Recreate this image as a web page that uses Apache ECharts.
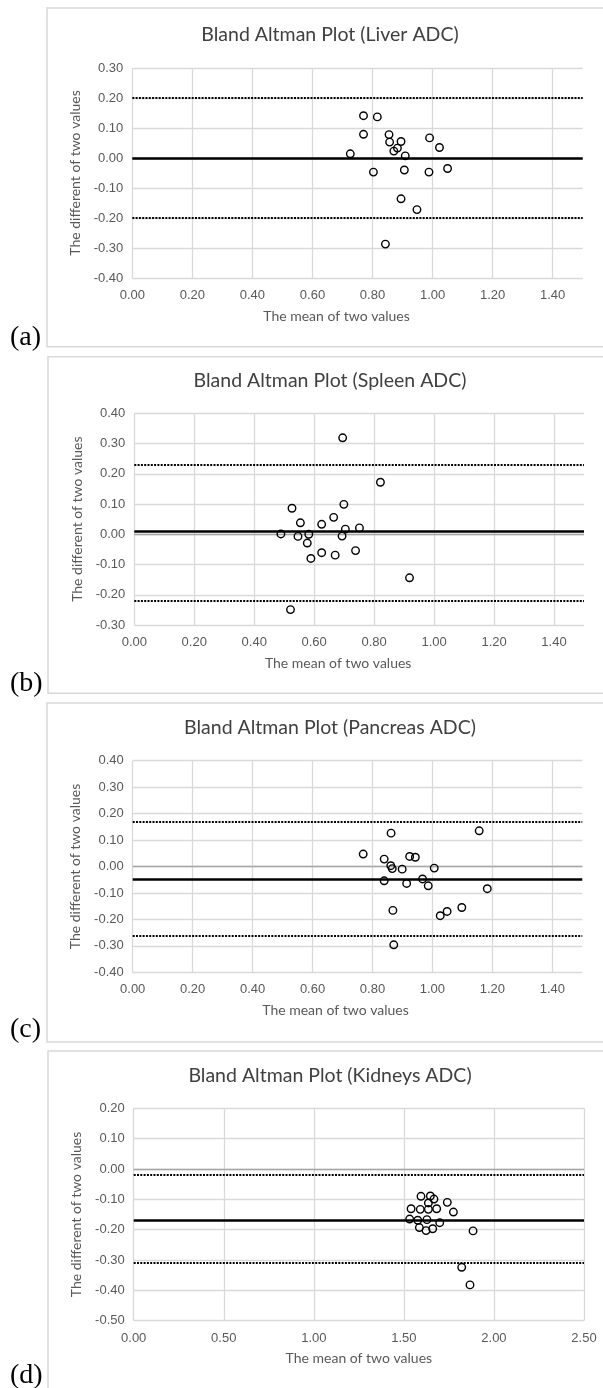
<!DOCTYPE html>
<html>
<head>
<meta charset="utf-8">
<title>Bland Altman Plots</title>
<script src="https://cdn.jsdelivr.net/npm/echarts@6.0.0/dist/echarts.min.js"></script>
<style>
  html, body { margin: 0; padding: 0; background: #fff; }
  #main { width: 603px; height: 1388px; }
</style>
</head>
<body>
<div id="main"></div>
<script>
// mean of two values (x) and difference of two values (y)
var liverMean = [0.770, 0.816, 0.770, 0.855, 0.857, 0.895, 0.990, 1.023, 0.726, 0.871,
                 0.883, 0.909, 0.803, 0.906, 0.988, 1.050, 0.895, 0.948, 0.843];
var liverDiff = [0.141, 0.137, 0.079, 0.078, 0.053, 0.055, 0.067, 0.035, 0.014, 0.023,
                 0.033, 0.007, -0.047, -0.040, -0.047, -0.035, -0.136, -0.172, -0.287];
// bias, upper limit, lower limit
var liverLimits = [0.001, 0.201, -0.199];

var spleenMean = [0.695, 0.821, 0.699, 0.526, 0.665, 0.554, 0.625, 0.704, 0.751, 0.489,
                  0.546, 0.582, 0.693, 0.577, 0.625, 0.670, 0.738, 0.589, 0.918, 0.521];
var spleenDiff = [0.319, 0.172, 0.099, 0.086, 0.056, 0.038, 0.033, 0.017, 0.021, 0.001,
                  -0.007, 0.000, -0.006, -0.029, -0.061, -0.069, -0.054, -0.080, -0.144, -0.249];
var spleenLimits = [0.006, 0.233, -0.221];

var pancreasMean = [0.862, 1.156, 0.769, 0.839, 0.924, 0.943, 0.861, 0.866, 0.899, 1.006,
                    0.839, 0.914, 0.967, 0.986, 1.183, 0.868, 1.026, 1.049, 1.098, 0.871];
var pancreasDiff = [0.126, 0.135, 0.047, 0.028, 0.038, 0.035, 0.003, -0.008, -0.010, -0.006,
                    -0.054, -0.064, -0.047, -0.073, -0.084, -0.166, -0.186, -0.170, -0.155, -0.296];
var pancreasLimits = [-0.046, 0.168, -0.259];

var kidneysMean = [1.595, 1.647, 1.667, 1.636, 1.741, 1.540, 1.591, 1.636, 1.682, 1.775,
                   1.532, 1.577, 1.628, 1.699, 1.586, 1.623, 1.660, 1.884, 1.821, 1.867];
var kidneysDiff = [-0.090, -0.089, -0.099, -0.112, -0.110, -0.131, -0.133, -0.133, -0.131, -0.142,
                   -0.165, -0.169, -0.167, -0.177, -0.193, -0.203, -0.197, -0.204, -0.324, -0.382];
var kidneysLimits = [-0.169, -0.024, -0.314];

var titles = ['Bland Altman Plot (Liver ADC)', 'Bland Altman Plot (Spleen ADC)',
              'Bland Altman Plot (Pancreas ADC)', 'Bland Altman Plot (Kidneys ADC)'];
var tags = ['(a)', '(b)', '(c)', '(d)'];

// axis ranges: [min, max, interval]
var xRanges = [[0, 1.5, 0.2], [0, 1.5, 0.2], [0, 1.5, 0.2], [0, 2.5, 0.5]];
var yRanges = [[-0.4, 0.3, 0.1], [-0.3, 0.4, 0.1], [-0.4, 0.4, 0.1], [-0.5, 0.2, 0.1]];

var means = [liverMean, spleenMean, pancreasMean, kidneysMean];
var diffs = [liverDiff, spleenDiff, pancreasDiff, kidneysDiff];
var limits = [liverLimits, spleenLimits, pancreasLimits, kidneysLimits];

// page layout (pixels)
var grids = [
  { left: 132.3, top: 68, width: 450.4, height: 210 },
  { left: 134.3, top: 413.3, width: 449.7, height: 211.7 },
  { left: 132.7, top: 760.7, width: 449.6, height: 211.6 },
  { left: 133.7, top: 1108.3, width: 450.3, height: 212.4 }
];
var frames = [[47, 8, 338.7], [48, 356.7, 336.5], [47, 703, 339], [48, 1051, 400]];
var tagY = [340, 686, 1032, 1378];
var nameShift = [42, 42, 44, 0];

var chart = echarts.init(document.getElementById('main'));

var labelFont = 'Liberation Sans';
var textFont = 'Lato';
var gridColor = '#d9d9d9';

var option = {
  animation: false,
  backgroundColor: '#fff',
  title: [],
  grid: [],
  xAxis: [],
  yAxis: [],
  series: [],
  graphic: []
};

for (var i = 0; i < 4; i++) {
  var g = grids[i];

  // panel frame + (a)..(d) tag
  option.graphic.push({
    type: 'rect',
    silent: true,
    shape: { x: frames[i][0], y: frames[i][1], width: 620, height: frames[i][2] },
    style: { fill: 'none', stroke: gridColor, lineWidth: 1.5 }
  });
  option.graphic.push({
    type: 'text',
    left: 10,
    top: tagY[i] - 16,
    style: { text: tags[i], font: '28px "Liberation Serif"', fill: '#000' }
  });

  option.title.push({
    text: titles[i],
    left: 330,
    top: g.top - 33,
    textAlign: 'center',
    textVerticalAlign: 'middle',
    padding: 0,
    textStyle: { fontFamily: textFont, fontSize: 19.5, fontWeight: 'normal', color: '#404040' }
  });

  option.grid.push({
    left: g.left, top: g.top, width: g.width, height: g.height,
    containLabel: false,
    outerBoundsMode: 'none'
  });

  option.xAxis.push({
    type: 'value',
    gridIndex: i,
    min: xRanges[i][0],
    max: xRanges[i][1],
    interval: xRanges[i][2],
    name: 'The mean of two values',
    nameLocation: 'middle',
    nameGap: 31,
    nameTextStyle: {
      fontFamily: textFont, fontSize: 14, color: '#595959',
      padding: [0, nameShift[i], 0, 0]
    },
    axisLine: { show: false },
    axisTick: { show: false },
    axisLabel: {
      fontFamily: labelFont, fontSize: 13, color: '#595959', margin: 11,
      showMaxLabel: i === 3,
      formatter: function (v) { return v.toFixed(2); }
    },
    splitLine: { show: true, showMaxLine: i === 3, lineStyle: { color: gridColor, width: 1.3 } }
  });

  option.yAxis.push({
    type: 'value',
    gridIndex: i,
    min: yRanges[i][0],
    max: yRanges[i][1],
    interval: yRanges[i][2],
    name: 'The different of two values',
    nameLocation: 'middle',
    nameRotate: 90,
    nameGap: 50,
    nameTextStyle: { fontFamily: textFont, fontSize: 14, color: '#595959' },
    axisLine: { show: false },
    axisTick: { show: false },
    axisLabel: {
      fontFamily: labelFont, fontSize: 13, color: '#595959', margin: 9,
      formatter: function (v) { return v.toFixed(2); }
    },
    splitLine: { show: true, lineStyle: { color: gridColor, width: 1.3 } }
  });

  var pts = means[i].map(function (m, k) { return [m, diffs[i][k]]; });
  var lim = limits[i];
  var dotted = { color: '#000', width: 2, type: [2, 1.3] };

  option.series.push({
    type: 'scatter',
    xAxisIndex: i,
    yAxisIndex: i,
    data: pts,
    symbol: 'circle',
    symbolSize: 7.5,
    itemStyle: { color: 'rgba(0,0,0,0)', borderColor: '#000', borderWidth: 1.4, opacity: 1 },
    markLine: {
      silent: true,
      symbol: ['none', 'none'],
      label: { show: false },
      z: 1,
      data: [
        { yAxis: 0, lineStyle: { color: '#a6a6a6', width: 1.3, type: 'solid' } },
        { yAxis: lim[1], lineStyle: dotted },
        { yAxis: lim[2], lineStyle: dotted },
        { yAxis: lim[0], lineStyle: { color: '#000', width: 2.6, type: 'solid' } }
      ]
    }
  });
}

chart.setOption(option);
</script>
</body>
</html>
